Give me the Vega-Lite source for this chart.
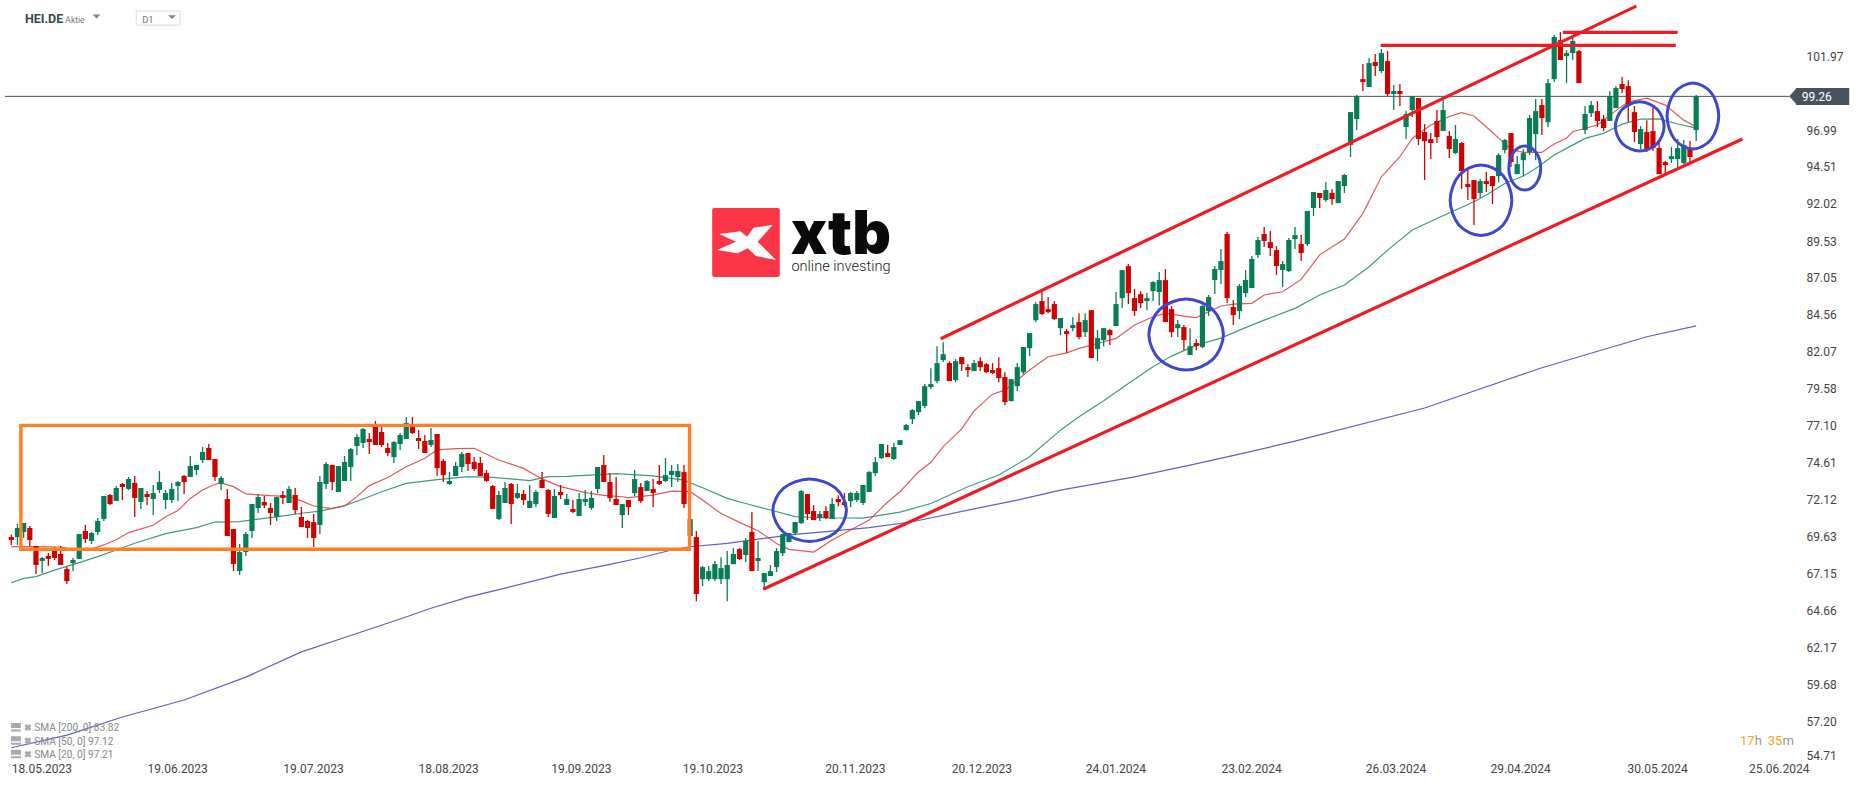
{
  "$schema": "https://vega.github.io/schema/vega-lite/v6.json",
  "width": 1866,
  "height": 787,
  "padding": 0,
  "autosize": {"type": "none"},
  "background": "#ffffff",
  "config": {"view": {"stroke": null}, "font": "Roboto"},
  "datasets": {
    "candles": [
      {"bar":0,"open":69.62,"high":69.80,"low":69.09,"close":69.42},
      {"bar":1,"open":69.62,"high":70.50,"low":69.09,"close":70.23},
      {"bar":2,"open":69.96,"high":70.57,"low":69.56,"close":70.57},
      {"bar":3,"open":70.23,"high":70.36,"low":69.02,"close":69.42},
      {"bar":4,"open":69.02,"high":69.02,"low":67.14,"close":67.74},
      {"bar":5,"open":68.01,"high":68.28,"low":67.20,"close":68.21},
      {"bar":6,"open":68.35,"high":68.55,"low":67.67,"close":68.15},
      {"bar":7,"open":68.75,"high":68.95,"low":68.08,"close":68.21},
      {"bar":8,"open":68.48,"high":69.02,"low":67.74,"close":67.74},
      {"bar":9,"open":67.47,"high":67.61,"low":66.46,"close":66.66},
      {"bar":10,"open":67.88,"high":68.21,"low":67.34,"close":68.08},
      {"bar":11,"open":68.15,"high":69.83,"low":68.15,"close":69.83},
      {"bar":12,"open":70.03,"high":70.43,"low":69.22,"close":69.49},
      {"bar":13,"open":69.36,"high":69.96,"low":69.15,"close":69.89},
      {"bar":14,"open":69.96,"high":70.90,"low":69.76,"close":70.70},
      {"bar":15,"open":70.84,"high":72.38,"low":70.70,"close":72.38},
      {"bar":16,"open":72.45,"high":72.52,"low":71.78,"close":71.84},
      {"bar":17,"open":72.05,"high":73.05,"low":72.05,"close":72.92},
      {"bar":18,"open":73.19,"high":73.26,"low":72.11,"close":72.99},
      {"bar":19,"open":72.85,"high":73.66,"low":72.79,"close":73.53},
      {"bar":20,"open":73.26,"high":73.73,"low":70.97,"close":72.25},
      {"bar":21,"open":71.98,"high":72.92,"low":71.51,"close":72.92},
      {"bar":22,"open":72.52,"high":72.72,"low":71.78,"close":72.31},
      {"bar":23,"open":72.18,"high":73.12,"low":71.10,"close":72.58},
      {"bar":24,"open":72.79,"high":74.06,"low":72.58,"close":73.32},
      {"bar":25,"open":72.11,"high":72.79,"low":71.51,"close":72.58},
      {"bar":26,"open":72.11,"high":73.26,"low":71.91,"close":72.85},
      {"bar":27,"open":73.05,"high":73.39,"low":72.05,"close":73.32},
      {"bar":28,"open":73.73,"high":73.79,"low":72.52,"close":73.32},
      {"bar":29,"open":73.66,"high":75.07,"low":73.66,"close":74.40},
      {"bar":30,"open":74.13,"high":74.47,"low":73.79,"close":74.47},
      {"bar":31,"open":74.80,"high":75.68,"low":74.60,"close":75.34},
      {"bar":32,"open":75.61,"high":75.88,"low":74.80,"close":74.80},
      {"bar":33,"open":74.87,"high":74.87,"low":73.39,"close":73.66},
      {"bar":34,"open":73.19,"high":73.73,"low":72.79,"close":73.59},
      {"bar":35,"open":72.18,"high":72.85,"low":69.69,"close":69.69},
      {"bar":36,"open":70.16,"high":70.16,"low":67.34,"close":67.81},
      {"bar":37,"open":67.34,"high":69.15,"low":67.07,"close":68.61},
      {"bar":38,"open":68.61,"high":69.96,"low":68.35,"close":69.83},
      {"bar":39,"open":70.03,"high":71.84,"low":69.56,"close":71.84},
      {"bar":40,"open":71.58,"high":72.52,"low":71.24,"close":72.31},
      {"bar":41,"open":71.98,"high":72.38,"low":71.58,"close":71.75},
      {"bar":42,"open":71.58,"high":71.91,"low":70.43,"close":71.24},
      {"bar":43,"open":70.97,"high":72.31,"low":70.70,"close":72.31},
      {"bar":44,"open":72.45,"high":72.72,"low":71.84,"close":72.25},
      {"bar":45,"open":71.91,"high":73.05,"low":71.91,"close":72.85},
      {"bar":46,"open":72.45,"high":72.92,"low":71.17,"close":71.44},
      {"bar":47,"open":70.97,"high":71.64,"low":70.30,"close":70.30},
      {"bar":48,"open":70.70,"high":70.77,"low":69.56,"close":70.23},
      {"bar":49,"open":70.63,"high":71.17,"low":68.95,"close":69.56},
      {"bar":50,"open":70.43,"high":73.73,"low":69.83,"close":73.32},
      {"bar":51,"open":73.19,"high":74.67,"low":72.85,"close":74.53},
      {"bar":52,"open":74.47,"high":74.47,"low":72.79,"close":73.32},
      {"bar":53,"open":72.65,"high":74.40,"low":72.65,"close":74.40},
      {"bar":54,"open":73.39,"high":75.07,"low":73.39,"close":74.67},
      {"bar":55,"open":74.33,"high":75.61,"low":73.39,"close":75.54},
      {"bar":56,"open":75.74,"high":76.55,"low":75.14,"close":76.35},
      {"bar":57,"open":75.95,"high":76.96,"low":75.61,"close":76.89},
      {"bar":58,"open":76.22,"high":76.62,"low":75.21,"close":76.01},
      {"bar":59,"open":77.16,"high":77.43,"low":75.81,"close":75.81},
      {"bar":60,"open":76.69,"high":77.02,"low":75.68,"close":75.81},
      {"bar":61,"open":75.61,"high":75.95,"low":75.07,"close":75.27},
      {"bar":62,"open":75.00,"high":76.08,"low":74.60,"close":76.01},
      {"bar":63,"open":75.88,"high":76.62,"low":75.48,"close":76.48},
      {"bar":64,"open":76.22,"high":77.70,"low":76.22,"close":77.29},
      {"bar":65,"open":77.02,"high":77.70,"low":76.55,"close":76.62},
      {"bar":66,"open":76.28,"high":76.82,"low":75.54,"close":76.08},
      {"bar":67,"open":76.08,"high":76.48,"low":75.27,"close":75.27},
      {"bar":68,"open":75.81,"high":76.96,"low":75.68,"close":76.15},
      {"bar":69,"open":76.55,"high":76.55,"low":73.73,"close":74.26},
      {"bar":70,"open":74.74,"high":74.87,"low":73.32,"close":73.79},
      {"bar":71,"open":73.19,"high":74.00,"low":73.12,"close":73.39},
      {"bar":72,"open":73.73,"high":74.67,"low":73.73,"close":74.40},
      {"bar":73,"open":74.33,"high":75.34,"low":74.00,"close":75.21},
      {"bar":74,"open":75.27,"high":75.27,"low":74.06,"close":74.53},
      {"bar":75,"open":74.67,"high":75.00,"low":74.06,"close":74.20},
      {"bar":76,"open":74.60,"high":75.00,"low":73.73,"close":73.73},
      {"bar":77,"open":73.93,"high":74.13,"low":73.32,"close":73.39},
      {"bar":78,"open":73.05,"high":73.12,"low":71.51,"close":71.51},
      {"bar":79,"open":70.84,"high":72.72,"low":70.77,"close":72.45},
      {"bar":80,"open":71.91,"high":73.32,"low":71.91,"close":72.92},
      {"bar":81,"open":73.19,"high":73.26,"low":70.50,"close":71.84},
      {"bar":82,"open":72.25,"high":73.19,"low":72.18,"close":72.58},
      {"bar":83,"open":72.52,"high":72.79,"low":71.78,"close":72.11},
      {"bar":84,"open":71.58,"high":73.12,"low":71.58,"close":72.05},
      {"bar":85,"open":71.84,"high":72.79,"low":71.64,"close":72.65},
      {"bar":86,"open":73.46,"high":74.00,"low":72.92,"close":72.92},
      {"bar":87,"open":72.79,"high":72.85,"low":70.97,"close":71.17},
      {"bar":88,"open":70.90,"high":72.85,"low":70.90,"close":72.38},
      {"bar":89,"open":72.65,"high":73.12,"low":72.18,"close":72.45},
      {"bar":90,"open":71.78,"high":72.52,"low":71.78,"close":72.18},
      {"bar":91,"open":71.51,"high":72.11,"low":71.24,"close":71.31},
      {"bar":92,"open":71.04,"high":72.58,"low":71.04,"close":72.18},
      {"bar":93,"open":71.98,"high":72.79,"low":71.71,"close":72.18},
      {"bar":94,"open":71.58,"high":72.72,"low":71.44,"close":72.25},
      {"bar":95,"open":72.85,"high":74.33,"low":72.58,"close":74.33},
      {"bar":96,"open":74.46,"high":75.14,"low":73.32,"close":73.32},
      {"bar":97,"open":73.32,"high":73.92,"low":71.97,"close":72.24},
      {"bar":98,"open":72.18,"high":73.66,"low":71.77,"close":71.77},
      {"bar":99,"open":71.10,"high":71.84,"low":70.23,"close":71.84},
      {"bar":100,"open":72.11,"high":72.11,"low":71.10,"close":71.64},
      {"bar":101,"open":72.58,"high":74.13,"low":72.38,"close":73.52},
      {"bar":102,"open":72.98,"high":73.25,"low":71.91,"close":72.04},
      {"bar":103,"open":72.71,"high":73.45,"low":72.71,"close":73.39},
      {"bar":104,"open":72.85,"high":73.52,"low":71.64,"close":72.58},
      {"bar":105,"open":73.39,"high":74.46,"low":73.12,"close":73.18},
      {"bar":106,"open":73.39,"high":74.93,"low":73.32,"close":73.79},
      {"bar":107,"open":73.79,"high":74.46,"low":72.98,"close":74.06},
      {"bar":108,"open":73.66,"high":74.53,"low":73.32,"close":74.06},
      {"bar":109,"open":73.99,"high":74.46,"low":71.57,"close":71.84},
      {"bar":110,"open":69.69,"high":70.83,"low":69.69,"close":70.83},
      {"bar":111,"open":69.62,"high":70.02,"low":65.31,"close":65.79},
      {"bar":112,"open":66.79,"high":67.67,"low":66.32,"close":67.60},
      {"bar":113,"open":66.79,"high":67.67,"low":66.66,"close":67.33},
      {"bar":114,"open":66.79,"high":68.01,"low":66.66,"close":67.80},
      {"bar":115,"open":66.79,"high":68.27,"low":66.46,"close":67.53},
      {"bar":116,"open":66.79,"high":68.68,"low":65.31,"close":67.74},
      {"bar":117,"open":67.80,"high":68.88,"low":67.80,"close":68.48},
      {"bar":118,"open":68.81,"high":68.88,"low":68.07,"close":68.14},
      {"bar":119,"open":68.41,"high":69.55,"low":67.94,"close":69.35},
      {"bar":120,"open":69.96,"high":71.30,"low":67.33,"close":67.33},
      {"bar":121,"open":68.01,"high":69.35,"low":67.33,"close":68.21},
      {"bar":122,"open":66.59,"high":67.20,"low":66.19,"close":67.20},
      {"bar":123,"open":67.00,"high":67.74,"low":67.00,"close":67.33},
      {"bar":124,"open":67.60,"high":68.88,"low":67.27,"close":68.68},
      {"bar":125,"open":68.54,"high":69.82,"low":68.34,"close":69.82},
      {"bar":126,"open":69.28,"high":69.89,"low":69.28,"close":69.89},
      {"bar":127,"open":69.89,"high":70.63,"low":69.75,"close":70.63},
      {"bar":128,"open":70.56,"high":72.78,"low":70.49,"close":72.71},
      {"bar":129,"open":72.51,"high":72.51,"low":70.76,"close":71.17},
      {"bar":130,"open":71.37,"high":71.77,"low":70.76,"close":70.76},
      {"bar":131,"open":70.90,"high":71.37,"low":70.70,"close":71.17},
      {"bar":132,"open":71.37,"high":71.70,"low":70.83,"close":70.90},
      {"bar":133,"open":70.83,"high":72.24,"low":70.83,"close":71.84},
      {"bar":134,"open":72.18,"high":72.44,"low":71.70,"close":71.97},
      {"bar":135,"open":71.97,"high":72.58,"low":71.64,"close":71.77},
      {"bar":136,"open":72.04,"high":72.65,"low":71.64,"close":72.58},
      {"bar":137,"open":72.11,"high":72.71,"low":71.97,"close":72.58},
      {"bar":138,"open":71.91,"high":73.12,"low":71.77,"close":73.12},
      {"bar":139,"open":72.65,"high":74.06,"low":72.65,"close":73.99},
      {"bar":140,"open":73.92,"high":75.00,"low":73.72,"close":74.66},
      {"bar":141,"open":74.93,"high":75.88,"low":74.87,"close":75.88},
      {"bar":142,"open":75.27,"high":75.81,"low":75.00,"close":75.00},
      {"bar":143,"open":74.87,"high":75.94,"low":74.80,"close":75.67},
      {"bar":144,"open":75.81,"high":76.14,"low":75.81,"close":76.14},
      {"bar":145,"open":76.81,"high":77.22,"low":76.81,"close":77.15},
      {"bar":146,"open":77.55,"high":78.23,"low":77.22,"close":78.16},
      {"bar":147,"open":78.02,"high":78.76,"low":77.82,"close":78.76},
      {"bar":148,"open":78.43,"high":79.91,"low":78.29,"close":79.77},
      {"bar":149,"open":79.71,"high":80.98,"low":79.57,"close":79.91},
      {"bar":150,"open":80.11,"high":82.46,"low":79.97,"close":81.32},
      {"bar":151,"open":81.52,"high":82.73,"low":81.39,"close":81.92},
      {"bar":152,"open":81.32,"high":81.45,"low":80.11,"close":80.11},
      {"bar":153,"open":80.18,"high":81.59,"low":80.04,"close":81.45},
      {"bar":154,"open":81.72,"high":81.72,"low":80.78,"close":81.25},
      {"bar":155,"open":81.05,"high":81.25,"low":80.38,"close":80.85},
      {"bar":156,"open":80.78,"high":81.52,"low":80.78,"close":81.32},
      {"bar":157,"open":81.45,"high":81.72,"low":80.78,"close":81.05},
      {"bar":158,"open":81.25,"high":81.32,"low":80.65,"close":80.71},
      {"bar":159,"open":80.85,"high":81.32,"low":80.58,"close":80.65},
      {"bar":160,"open":80.98,"high":81.72,"low":80.04,"close":80.31},
      {"bar":161,"open":80.38,"high":80.71,"low":78.49,"close":78.70},
      {"bar":162,"open":78.76,"high":80.24,"low":78.76,"close":80.24},
      {"bar":163,"open":79.77,"high":81.32,"low":79.44,"close":81.05},
      {"bar":164,"open":80.71,"high":82.40,"low":80.58,"close":82.40},
      {"bar":165,"open":82.33,"high":83.34,"low":81.79,"close":83.34},
      {"bar":166,"open":84.21,"high":85.42,"low":84.08,"close":85.29},
      {"bar":167,"open":85.49,"high":86.10,"low":84.55,"close":84.62},
      {"bar":168,"open":84.95,"high":85.76,"low":84.68,"close":84.75},
      {"bar":169,"open":85.29,"high":85.49,"low":84.21,"close":84.28},
      {"bar":170,"open":83.67,"high":84.35,"low":83.20,"close":84.35},
      {"bar":171,"open":83.47,"high":83.61,"low":82.00,"close":83.27},
      {"bar":172,"open":83.67,"high":84.41,"low":83.47,"close":83.88},
      {"bar":173,"open":84.08,"high":84.68,"low":82.93,"close":83.07},
      {"bar":174,"open":83.40,"high":84.68,"low":83.07,"close":84.21},
      {"bar":175,"open":84.88,"high":84.88,"low":81.66,"close":81.66},
      {"bar":176,"open":82.26,"high":83.54,"low":81.45,"close":83.00},
      {"bar":177,"open":82.87,"high":83.67,"low":82.46,"close":83.67},
      {"bar":178,"open":83.54,"high":83.61,"low":82.53,"close":83.20},
      {"bar":179,"open":83.81,"high":86.10,"low":83.81,"close":85.29},
      {"bar":180,"open":85.69,"high":87.57,"low":85.02,"close":87.57},
      {"bar":181,"open":87.84,"high":87.98,"low":85.29,"close":86.03},
      {"bar":182,"open":85.69,"high":86.30,"low":84.48,"close":84.82},
      {"bar":183,"open":85.96,"high":86.16,"low":85.02,"close":85.36},
      {"bar":184,"open":85.49,"high":86.03,"low":84.88,"close":85.69},
      {"bar":185,"open":86.16,"high":86.83,"low":85.49,"close":86.77},
      {"bar":186,"open":86.10,"high":87.44,"low":85.20,"close":86.90},
      {"bar":187,"open":86.90,"high":87.64,"low":84.08,"close":84.08},
      {"bar":188,"open":84.95,"high":85.15,"low":83.07,"close":83.40},
      {"bar":189,"open":83.67,"high":84.21,"low":83.07,"close":83.94},
      {"bar":190,"open":83.74,"high":83.88,"low":82.19,"close":82.87},
      {"bar":191,"open":81.86,"high":83.67,"low":81.86,"close":82.46},
      {"bar":192,"open":82.67,"high":82.93,"low":82.19,"close":82.46},
      {"bar":193,"open":82.40,"high":85.22,"low":82.33,"close":85.16},
      {"bar":194,"open":84.82,"high":85.90,"low":84.48,"close":85.76},
      {"bar":195,"open":86.91,"high":87.85,"low":85.96,"close":87.65},
      {"bar":196,"open":87.58,"high":88.99,"low":86.64,"close":88.18},
      {"bar":197,"open":90.00,"high":90.13,"low":85.36,"close":85.69},
      {"bar":198,"open":85.09,"high":85.56,"low":83.88,"close":84.55},
      {"bar":199,"open":84.82,"high":86.64,"low":84.28,"close":86.50},
      {"bar":200,"open":86.03,"high":87.58,"low":85.76,"close":86.91},
      {"bar":201,"open":86.37,"high":88.52,"low":86.37,"close":88.32},
      {"bar":202,"open":88.59,"high":89.80,"low":88.39,"close":89.60},
      {"bar":203,"open":90.00,"high":90.47,"low":89.12,"close":89.53},
      {"bar":204,"open":89.46,"high":90.20,"low":88.52,"close":89.06},
      {"bar":205,"open":88.92,"high":89.19,"low":87.24,"close":87.85},
      {"bar":206,"open":87.58,"high":88.18,"low":86.43,"close":87.98},
      {"bar":207,"open":87.51,"high":89.73,"low":87.44,"close":89.60},
      {"bar":208,"open":89.66,"high":90.47,"low":88.99,"close":89.93},
      {"bar":209,"open":89.33,"high":89.93,"low":88.18,"close":88.72},
      {"bar":210,"open":89.33,"high":91.55,"low":89.19,"close":91.55},
      {"bar":211,"open":91.75,"high":92.82,"low":91.21,"close":92.82},
      {"bar":212,"open":92.76,"high":92.76,"low":91.75,"close":92.42},
      {"bar":213,"open":92.29,"high":93.50,"low":92.15,"close":92.96},
      {"bar":214,"open":92.76,"high":93.03,"low":91.95,"close":92.35},
      {"bar":215,"open":92.08,"high":93.56,"low":92.08,"close":93.56},
      {"bar":216,"open":93.23,"high":94.03,"low":92.76,"close":93.97},
      {"bar":217,"open":95.99,"high":98.20,"low":95.18,"close":98.20},
      {"bar":218,"open":97.73,"high":99.35,"low":96.99,"close":99.28},
      {"bar":219,"open":100.42,"high":101.43,"low":99.62,"close":100.22},
      {"bar":220,"open":99.89,"high":101.84,"low":99.89,"close":101.50},
      {"bar":221,"open":101.57,"high":102.11,"low":100.63,"close":101.30},
      {"bar":222,"open":100.96,"high":102.44,"low":100.83,"close":102.17},
      {"bar":223,"open":101.63,"high":102.31,"low":99.28,"close":99.42},
      {"bar":224,"open":99.42,"high":100.02,"low":98.34,"close":99.62},
      {"bar":225,"open":99.62,"high":100.09,"low":98.61,"close":99.42},
      {"bar":226,"open":97.20,"high":98.27,"low":96.39,"close":98.07},
      {"bar":227,"open":98.34,"high":99.28,"low":97.87,"close":99.28},
      {"bar":228,"open":99.15,"high":99.15,"low":95.99,"close":96.39},
      {"bar":229,"open":96.86,"high":97.40,"low":93.63,"close":96.25},
      {"bar":230,"open":96.39,"high":96.79,"low":95.04,"close":96.12},
      {"bar":231,"open":97.60,"high":98.34,"low":96.12,"close":96.52},
      {"bar":232,"open":96.93,"high":99.08,"low":96.93,"close":98.34},
      {"bar":233,"open":96.59,"high":96.93,"low":95.11,"close":95.72},
      {"bar":234,"open":95.45,"high":97.33,"low":95.38,"close":96.39},
      {"bar":235,"open":96.12,"high":96.19,"low":93.03,"close":94.24},
      {"bar":236,"open":93.36,"high":94.30,"low":92.29,"close":93.16},
      {"bar":237,"open":93.63,"high":93.63,"low":90.60,"close":92.35},
      {"bar":238,"open":92.76,"high":93.70,"low":92.42,"close":93.56},
      {"bar":239,"open":93.56,"high":94.17,"low":92.82,"close":93.36},
      {"bar":240,"open":93.90,"high":93.90,"low":92.02,"close":93.23},
      {"bar":241,"open":93.90,"high":95.44,"low":93.49,"close":95.31},
      {"bar":242,"open":95.65,"high":96.39,"low":95.42,"close":96.32},
      {"bar":243,"open":96.79,"high":96.79,"low":94.50,"close":94.84},
      {"bar":244,"open":94.03,"high":95.24,"low":94.03,"close":94.70},
      {"bar":245,"open":94.97,"high":95.71,"low":93.90,"close":95.44},
      {"bar":246,"open":95.51,"high":98.00,"low":95.31,"close":97.80},
      {"bar":247,"open":96.72,"high":99.08,"low":94.97,"close":98.27},
      {"bar":248,"open":98.67,"high":99.08,"low":96.66,"close":97.80},
      {"bar":249,"open":97.53,"high":100.42,"low":97.19,"close":100.15},
      {"bar":250,"open":100.42,"high":103.38,"low":100.22,"close":103.25},
      {"bar":251,"open":103.04,"high":103.58,"low":101.70,"close":101.70},
      {"bar":252,"open":101.97,"high":102.37,"low":100.15,"close":102.17},
      {"bar":253,"open":102.17,"high":103.18,"low":101.70,"close":102.98},
      {"bar":254,"open":102.30,"high":102.37,"low":100.15,"close":100.15},
      {"bar":255,"open":96.99,"high":98.61,"low":96.72,"close":98.07},
      {"bar":256,"open":98.13,"high":98.94,"low":97.87,"close":98.67},
      {"bar":257,"open":98.27,"high":98.94,"low":97.19,"close":97.60},
      {"bar":258,"open":97.73,"high":98.00,"low":96.92,"close":97.13},
      {"bar":259,"open":97.60,"high":99.61,"low":97.60,"close":99.28},
      {"bar":260,"open":98.47,"high":99.95,"low":98.47,"close":99.82},
      {"bar":261,"open":100.09,"high":100.56,"low":99.48,"close":99.75},
      {"bar":262,"open":99.95,"high":100.35,"low":97.53,"close":98.61},
      {"bar":263,"open":98.20,"high":98.61,"low":96.18,"close":96.86},
      {"bar":264,"open":96.05,"high":97.26,"low":95.71,"close":97.06},
      {"bar":265,"open":96.86,"high":97.66,"low":95.51,"close":95.71},
      {"bar":266,"open":96.92,"high":98.47,"low":95.58,"close":95.78},
      {"bar":267,"open":95.78,"high":96.18,"low":94.03,"close":94.03},
      {"bar":268,"open":94.84,"high":94.91,"low":94.03,"close":94.64},
      {"bar":269,"open":95.04,"high":95.85,"low":94.77,"close":95.24},
      {"bar":270,"open":95.04,"high":96.39,"low":94.50,"close":95.78},
      {"bar":271,"open":94.77,"high":96.32,"low":94.70,"close":95.98},
      {"bar":272,"open":95.71,"high":96.25,"low":94.70,"close":95.18},
      {"bar":273,"open":96.99,"high":99.35,"low":96.25,"close":99.26}
    ],
    "sma": [
      {"sma":"200","bar":0,"price":55.45},{"sma":"200","bar":9,"price":56.3},{"sma":"200","bar":18,"price":57.52},{"sma":"200","bar":28,"price":58.66},{"sma":"200","bar":38,"price":60.2},{"sma":"200","bar":47,"price":61.9},{"sma":"200","bar":55,"price":63.0},{"sma":"200","bar":63,"price":64.11},{"sma":"200","bar":68,"price":64.83},{"sma":"200","bar":74,"price":65.58},{"sma":"200","bar":80,"price":66.19},{"sma":"200","bar":89,"price":67.13},{"sma":"200","bar":97,"price":67.78},{"sma":"200","bar":102,"price":68.23},{"sma":"200","bar":107,"price":68.75},{"sma":"200","bar":110,"price":68.97},{"sma":"200","bar":116,"price":69.19},{"sma":"200","bar":122,"price":69.53},{"sma":"200","bar":127,"price":69.8},{"sma":"200","bar":132,"price":69.98},{"sma":"200","bar":139,"price":70.25},{"sma":"200","bar":146,"price":70.65},{"sma":"200","bar":155,"price":71.43},{"sma":"200","bar":163,"price":72.1},{"sma":"200","bar":170,"price":72.78},{"sma":"200","bar":182,"price":73.67},{"sma":"200","bar":191,"price":74.46},{"sma":"200","bar":199,"price":75.2},{"sma":"200","bar":208,"price":76.07},{"sma":"200","bar":229,"price":78.3},{"sma":"200","bar":248,"price":81.01},{"sma":"200","bar":265,"price":83.09},{"sma":"200","bar":273,"price":83.82},
      {"sma":"50","bar":0,"price":66.55},{"sma":"50","bar":2,"price":66.84},{"sma":"50","bar":4,"price":66.96},{"sma":"50","bar":7,"price":67.4},{"sma":"50","bar":11,"price":67.9},{"sma":"50","bar":14,"price":68.3},{"sma":"50","bar":17,"price":68.75},{"sma":"50","bar":20,"price":69.2},{"sma":"50","bar":25,"price":69.85},{"sma":"50","bar":30,"price":70.25},{"sma":"50","bar":33,"price":70.63},{"sma":"50","bar":37,"price":70.66},{"sma":"50","bar":41,"price":70.88},{"sma":"50","bar":45,"price":71.1},{"sma":"50","bar":47,"price":71.22},{"sma":"50","bar":50,"price":71.37},{"sma":"50","bar":54,"price":71.73},{"sma":"50","bar":57,"price":72.18},{"sma":"50","bar":60,"price":72.67},{"sma":"50","bar":64,"price":73.23},{"sma":"50","bar":69,"price":73.48},{"sma":"50","bar":74,"price":73.68},{"sma":"50","bar":78,"price":73.64},{"sma":"50","bar":84,"price":73.41},{"sma":"50","bar":87,"price":73.68},{"sma":"50","bar":90,"price":73.7},{"sma":"50","bar":96,"price":73.83},{"sma":"50","bar":98,"price":73.88},{"sma":"50","bar":104,"price":73.74},{"sma":"50","bar":109,"price":73.45},{"sma":"50","bar":112,"price":72.94},{"sma":"50","bar":116,"price":72.22},{"sma":"50","bar":119,"price":71.88},{"sma":"50","bar":123,"price":71.44},{"sma":"50","bar":127,"price":70.99},{"sma":"50","bar":131,"price":70.92},{"sma":"50","bar":138,"price":70.9},{"sma":"50","bar":141,"price":71.1},{"sma":"50","bar":144,"price":71.3},{"sma":"50","bar":149,"price":71.88},{"sma":"50","bar":155,"price":73.0},{"sma":"50","bar":160,"price":73.79},{"sma":"50","bar":165,"price":75.02},{"sma":"50","bar":170,"price":76.81},{"sma":"50","bar":173,"price":77.71},{"sma":"50","bar":177,"price":78.79},{"sma":"50","bar":181,"price":79.95},{"sma":"50","bar":185,"price":81.07},{"sma":"50","bar":188,"price":81.79},{"sma":"50","bar":192,"price":82.53},{"sma":"50","bar":196,"price":83.0},{"sma":"50","bar":199,"price":83.54},{"sma":"50","bar":203,"price":84.21},{"sma":"50","bar":208,"price":85.0},{"sma":"50","bar":212,"price":85.9},{"sma":"50","bar":216,"price":86.57},{"sma":"50","bar":220,"price":87.8},{"sma":"50","bar":223,"price":88.92},{"sma":"50","bar":227,"price":90.27},{"sma":"50","bar":231,"price":91.05},{"sma":"50","bar":237,"price":92.17},{"sma":"50","bar":239,"price":92.62},{"sma":"50","bar":242,"price":93.4},{"sma":"50","bar":245,"price":93.9},{"sma":"50","bar":247,"price":94.41},{"sma":"50","bar":250,"price":95.31},{"sma":"50","bar":252,"price":95.76},{"sma":"50","bar":255,"price":96.43},{"sma":"50","bar":258,"price":96.77},{"sma":"50","bar":261,"price":97.39},{"sma":"50","bar":264,"price":97.73},{"sma":"50","bar":267,"price":97.75},{"sma":"50","bar":270,"price":97.4},{"sma":"50","bar":273,"price":97.12},
      {"sma":"20","bar":0,"price":68.97},{"sma":"20","bar":4,"price":68.97},{"sma":"20","bar":8,"price":68.95},{"sma":"20","bar":10,"price":68.77},{"sma":"20","bar":13,"price":68.82},{"sma":"20","bar":15,"price":69.09},{"sma":"20","bar":17,"price":69.44},{"sma":"20","bar":19,"price":69.92},{"sma":"20","bar":23,"price":70.41},{"sma":"20","bar":25,"price":70.99},{"sma":"20","bar":27,"price":71.4},{"sma":"20","bar":29,"price":72.22},{"sma":"20","bar":31,"price":72.79},{"sma":"20","bar":33,"price":73.17},{"sma":"20","bar":34,"price":73.26},{"sma":"20","bar":36,"price":73.01},{"sma":"20","bar":38,"price":72.52},{"sma":"20","bar":42,"price":72.4},{"sma":"20","bar":45,"price":72.34},{"sma":"20","bar":47,"price":72.05},{"sma":"20","bar":49,"price":71.71},{"sma":"20","bar":52,"price":71.53},{"sma":"20","bar":54,"price":71.71},{"sma":"20","bar":56,"price":72.34},{"sma":"20","bar":58,"price":73.08},{"sma":"20","bar":61,"price":73.62},{"sma":"20","bar":64,"price":74.35},{"sma":"20","bar":67,"price":74.92},{"sma":"20","bar":69,"price":75.48},{"sma":"20","bar":72,"price":75.57},{"sma":"20","bar":75,"price":75.59},{"sma":"20","bar":79,"price":74.8},{"sma":"20","bar":83,"price":74.24},{"sma":"20","bar":86,"price":73.53},{"sma":"20","bar":89,"price":73.01},{"sma":"20","bar":93,"price":72.61},{"sma":"20","bar":96,"price":72.42},{"sma":"20","bar":99,"price":72.33},{"sma":"20","bar":100,"price":72.27},{"sma":"20","bar":104,"price":72.44},{"sma":"20","bar":107,"price":72.71},{"sma":"20","bar":110,"price":72.67},{"sma":"20","bar":112,"price":72.11},{"sma":"20","bar":115,"price":71.21},{"sma":"20","bar":118,"price":70.61},{"sma":"20","bar":121,"price":70.05},{"sma":"20","bar":124,"price":69.19},{"sma":"20","bar":126,"price":68.79},{"sma":"20","bar":130,"price":68.61},{"sma":"20","bar":133,"price":69.42},{"sma":"20","bar":136,"price":70.09},{"sma":"20","bar":139,"price":70.76},{"sma":"20","bar":142,"price":71.98},{"sma":"20","bar":144,"price":72.67},{"sma":"20","bar":147,"price":74.0},{"sma":"20","bar":149,"price":74.65},{"sma":"20","bar":151,"price":75.7},{"sma":"20","bar":154,"price":76.9},{"sma":"20","bar":156,"price":78.11},{"sma":"20","bar":159,"price":79.23},{"sma":"20","bar":161,"price":79.5},{"sma":"20","bar":162,"price":79.84},{"sma":"20","bar":165,"price":80.85},{"sma":"20","bar":168,"price":81.75},{"sma":"20","bar":171,"price":82.01},{"sma":"20","bar":173,"price":82.31},{"sma":"20","bar":176,"price":82.64},{"sma":"20","bar":179,"price":82.98},{"sma":"20","bar":182,"price":83.88},{"sma":"20","bar":185,"price":84.44},{"sma":"20","bar":187,"price":84.66},{"sma":"20","bar":190,"price":84.48},{"sma":"20","bar":192,"price":84.38},{"sma":"20","bar":196,"price":85.16},{"sma":"20","bar":198,"price":85.29},{"sma":"20","bar":201,"price":85.34},{"sma":"20","bar":203,"price":85.9},{"sma":"20","bar":206,"price":86.12},{"sma":"20","bar":209,"price":86.95},{"sma":"20","bar":212,"price":88.6},{"sma":"20","bar":216,"price":89.66},{"sma":"20","bar":219,"price":91.39},{"sma":"20","bar":222,"price":93.85},{"sma":"20","bar":225,"price":95.2},{"sma":"20","bar":227,"price":96.43},{"sma":"20","bar":230,"price":97.33},{"sma":"20","bar":233,"price":97.9},{"sma":"20","bar":235,"price":98.16},{"sma":"20","bar":237,"price":97.94},{"sma":"20","bar":239,"price":97.2},{"sma":"20","bar":241,"price":96.45},{"sma":"20","bar":243,"price":95.69},{"sma":"20","bar":245,"price":95.49},{"sma":"20","bar":248,"price":95.49},{"sma":"20","bar":250,"price":96.05},{"sma":"20","bar":252,"price":96.45},{"sma":"20","bar":253,"price":96.88},{"sma":"20","bar":257,"price":97.33},{"sma":"20","bar":260,"price":98.3},{"sma":"20","bar":262,"price":98.9},{"sma":"20","bar":265,"price":99.14},{"sma":"20","bar":268,"price":98.67},{"sma":"20","bar":271,"price":97.66},{"sma":"20","bar":273,"price":97.21}
    ],
    "redLines": [
      {"line":"lower","bar":121.83,"price":66.11},{"line":"lower","bar":280.5,"price":96.39},
      {"line":"upper","bar":150.6,"price":82.96},{"line":"upper","bar":263.3,"price":105.33},
      {"line":"res1","bar":221.9,"price":102.69},{"line":"res1","bar":269.7,"price":102.69},
      {"line":"res2","bar":251.4,"price":103.56},{"line":"res2","bar":270,"price":103.56}
    ],
    "circles": [
      {"c":"a","k":0,"bar":135.32,"price":71.42},{"c":"a","k":1,"bar":133.57,"price":72.91},{"c":"a","k":2,"bar":129.36,"price":73.53},{"c":"a","k":3,"bar":125.15,"price":72.91},{"c":"a","k":4,"bar":123.40,"price":71.42},{"c":"a","k":5,"bar":125.15,"price":69.93},{"c":"a","k":6,"bar":129.36,"price":69.32},{"c":"a","k":7,"bar":133.57,"price":69.93},
      {"c":"b","k":0,"bar":196.40,"price":83.24},{"c":"b","k":1,"bar":194.63,"price":84.93},{"c":"b","k":2,"bar":190.36,"price":85.63},{"c":"b","k":3,"bar":186.09,"price":84.93},{"c":"b","k":4,"bar":184.32,"price":83.24},{"c":"b","k":5,"bar":186.09,"price":81.55},{"c":"b","k":6,"bar":190.36,"price":80.85},{"c":"b","k":7,"bar":194.63,"price":81.55},
      {"c":"d","k":0,"bar":243.14,"price":92.27},{"c":"d","k":1,"bar":241.68,"price":93.95},{"c":"d","k":2,"bar":238.14,"price":94.64},{"c":"d","k":3,"bar":234.60,"price":93.95},{"c":"d","k":4,"bar":233.14,"price":92.27},{"c":"d","k":5,"bar":234.60,"price":90.59},{"c":"d","k":6,"bar":238.14,"price":89.90},{"c":"d","k":7,"bar":241.68,"price":90.59},
      {"c":"e","k":0,"bar":247.81,"price":94.44},{"c":"e","k":1,"bar":247.05,"price":95.49},{"c":"e","k":2,"bar":245.23,"price":95.92},{"c":"e","k":3,"bar":243.41,"price":95.49},{"c":"e","k":4,"bar":242.65,"price":94.44},{"c":"e","k":5,"bar":243.41,"price":93.39},{"c":"e","k":6,"bar":245.23,"price":92.96},{"c":"e","k":7,"bar":247.05,"price":93.39},
      {"c":"f","k":0,"bar":267.81,"price":97.24},{"c":"f","k":1,"bar":266.65,"price":98.41},{"c":"f","k":2,"bar":263.86,"price":98.90},{"c":"f","k":3,"bar":261.07,"price":98.41},{"c":"f","k":4,"bar":259.91,"price":97.24},{"c":"f","k":5,"bar":261.07,"price":96.07},{"c":"f","k":6,"bar":263.86,"price":95.58},{"c":"f","k":7,"bar":266.65,"price":96.07},
      {"c":"g","k":0,"bar":276.66,"price":97.94},{"c":"g","k":1,"bar":275.43,"price":99.51},{"c":"g","k":2,"bar":272.47,"price":100.16},{"c":"g","k":3,"bar":269.51,"price":99.51},{"c":"g","k":4,"bar":268.28,"price":97.94},{"c":"g","k":5,"bar":269.51,"price":96.37},{"c":"g","k":6,"bar":272.47,"price":95.72},{"c":"g","k":7,"bar":275.43,"price":96.37}
    ]
  },
  "layer": [
    {
      "data": {"values": [{"bar": -1.02, "bar2": 288.1, "price": 99.26}]},
      "mark": {"type": "rule", "color": "#47545e", "strokeWidth": 1},
      "encoding": {
        "x": {"field": "bar", "type": "quantitative", "scale": {"domain": [-1.02, 299.71], "nice": false, "zero": false}, "axis": {"orient": "bottom", "offset": -24, "title": null, "grid": false, "domain": false, "ticks": false, "labelPadding": 0, "labelFont": "Roboto", "labelFontSize": 12, "labelColor": "#444444", "labelAlign": "left", "labelBaseline": "top", "labelBound": false, "labelFlush": false, "labelOverlap": false, "values": [0,22,44,65.9,87.4,108.7,131.8,152.3,174,196,219.4,239.6,261.8,281.5], "labelExpr": "{'0':'18.05.2023','22':'19.06.2023','44':'19.07.2023','65.9':'18.08.2023','87.4':'19.09.2023','108.7':'19.10.2023','131.8':'20.11.2023','152.3':'20.12.2023','174':'24.01.2024','196':'23.02.2024','219.4':'26.03.2024','239.6':'29.04.2024','261.8':'30.05.2024','281.5':'25.06.2024'}[datum.value]"}},
        "x2": {"field": "bar2"},
        "y": {"field": "price", "type": "quantitative", "scale": {"domain": [52.81, 105.74], "nice": false, "zero": false}, "axis": {"orient": "right", "offset": -60, "title": null, "grid": false, "domain": false, "ticks": false, "labelPadding": 0, "labelFont": "Roboto", "labelFontSize": 12, "labelColor": "#444444", "labelBound": false, "labelFlush": false, "labelOverlap": false, "values": [101.97,96.99,94.51,92.02,89.53,87.05,84.56,82.07,79.58,77.10,74.61,72.12,69.63,67.15,64.66,62.17,59.68,57.20,54.92], "labelExpr": "datum.value == 54.92 ? '54.71' : format(datum.value, '.2f')"}}
      }
    },
    {
      "data": {"name": "sma"},
      "mark": {"type": "line", "strokeWidth": 1.2, "opacity": 0.85},
      "encoding": {
        "x": {"field": "bar", "type": "quantitative"},
        "y": {"field": "price", "type": "quantitative"},
        "color": {"field": "sma", "type": "nominal", "legend": null, "scale": {"domain": ["200", "50", "20"], "range": ["#3f48b0", "#1f8a63", "#e03a3e"]}}
      }
    },
    {
      "data": {"name": "candles"},
      "mark": {"type": "rule", "strokeWidth": 1.3},
      "encoding": {
        "x": {"field": "bar", "type": "quantitative"},
        "y": {"field": "low", "type": "quantitative"},
        "y2": {"field": "high"},
        "color": {"condition": {"test": "datum.close >= datum.open", "value": "#067d56"}, "value": "#cf0000"}
      }
    },
    {
      "data": {"name": "candles"},
      "mark": {"type": "bar", "size": 5.2},
      "encoding": {
        "x": {"field": "bar", "type": "quantitative"},
        "y": {"field": "open", "type": "quantitative"},
        "y2": {"field": "close"},
        "color": {"condition": {"test": "datum.close >= datum.open", "value": "#067d56"}, "value": "#cf0000"}
      }
    },
    {
      "data": {"values": [{"bar": 1.56, "bar2": 109.9, "price": 77.13, "price2": 68.80}]},
      "mark": {"type": "rect", "filled": false, "stroke": "#ff7f27", "strokeWidth": 3.4},
      "encoding": {
        "x": {"field": "bar", "type": "quantitative"},
        "x2": {"field": "bar2"},
        "y": {"field": "price", "type": "quantitative"},
        "y2": {"field": "price2"}
      }
    },
    {
      "data": {"name": "redLines"},
      "mark": {"type": "line", "color": "#ed1c24", "strokeWidth": 3.2},
      "encoding": {
        "x": {"field": "bar", "type": "quantitative"},
        "y": {"field": "price", "type": "quantitative"},
        "detail": {"field": "line"}
      }
    },
    {
      "data": {"name": "circles"},
      "mark": {"type": "line", "color": "#3f48cc", "strokeWidth": 3, "interpolate": "cardinal-closed"},
      "encoding": {
        "x": {"field": "bar", "type": "quantitative"},
        "y": {"field": "price", "type": "quantitative"},
        "detail": {"field": "c"},
        "order": {"field": "k", "type": "quantitative"}
      }
    },
    {
      "data": {"values": [{"bar": 289.2, "bar2": 297.8, "price": 99.82, "price2": 98.68}]},
      "mark": {"type": "rect", "color": "#47545e"},
      "encoding": {
        "x": {"field": "bar", "type": "quantitative"},
        "x2": {"field": "bar2"},
        "y": {"field": "price", "type": "quantitative"},
        "y2": {"field": "price2"}
      }
    },
    {
      "data": {"values": [{"bar": 288.7, "price": 99.26}]},
      "mark": {"type": "point", "shape": "M-0.45,0L0.45,-1L0.45,1Z", "size": 289, "filled": true, "color": "#47545e", "opacity": 1},
      "encoding": {"x": {"field": "bar", "type": "quantitative"}, "y": {"field": "price", "type": "quantitative"}}
    },
    {
      "data": {"values": [{"bar": 290.1, "price": 99.22, "label": "99.26"}]},
      "mark": {"type": "text", "align": "left", "baseline": "middle", "font": "Roboto", "fontSize": 12, "color": "#ffffff"},
      "encoding": {"x": {"field": "bar", "type": "quantitative"}, "y": {"field": "price", "type": "quantitative"}, "text": {"field": "label"}}
    },
    {
      "data": {"values": [{"bar": 2.21, "price": 104.46, "label": "HEI.DE"}]},
      "mark": {"type": "text", "align": "left", "baseline": "middle", "font": "Roboto", "fontSize": 12.5, "fontWeight": "bold", "color": "#37474f"},
      "encoding": {"x": {"field": "bar", "type": "quantitative"}, "y": {"field": "price", "type": "quantitative"}, "text": {"field": "label"}}
    },
    {
      "data": {"values": [{"bar": 8.76, "price": 104.42, "label": "Aktie"}]},
      "mark": {"type": "text", "align": "left", "baseline": "middle", "font": "Roboto", "fontSize": 8.5, "color": "#777777"},
      "encoding": {"x": {"field": "bar", "type": "quantitative"}, "y": {"field": "price", "type": "quantitative"}, "text": {"field": "label"}}
    },
    {
      "data": {"values": [{"bar": 21.2, "price": 104.39, "label": "D1"}]},
      "mark": {"type": "text", "align": "left", "baseline": "middle", "font": "Roboto", "fontSize": 9.5, "color": "#777777"},
      "encoding": {"x": {"field": "bar", "type": "quantitative"}, "y": {"field": "price", "type": "quantitative"}, "text": {"field": "label"}}
    },
    {
      "data": {"values": [{"bar": 13.81, "price": 104.63}, {"bar": 26.05, "price": 104.59}]},
      "mark": {"type": "point", "shape": "M-1,-0.5L1,-0.5L0,0.5Z", "size": 60, "filled": true, "color": "#808080", "opacity": 1},
      "encoding": {"x": {"field": "bar", "type": "quantitative"}, "y": {"field": "price", "type": "quantitative"}}
    },
    {
      "data": {"values": [{"bar": 20.25, "bar2": 27.34, "price": 105.0, "price2": 104.05}]},
      "mark": {"type": "rect", "filled": false, "stroke": "#dddddd", "strokeWidth": 1},
      "encoding": {"x": {"field": "bar", "type": "quantitative"}, "x2": {"field": "bar2"}, "y": {"field": "price", "type": "quantitative"}, "y2": {"field": "price2"}}
    },
    {
      "data": {"values": [{"bar": 3.7, "price": 56.76, "label": "SMA [200, 0] 83.82"}, {"bar": 3.7, "price": 55.86, "label": "SMA [50, 0] 97.12"}, {"bar": 3.7, "price": 54.96, "label": "SMA [20, 0] 97.21"}]},
      "mark": {"type": "text", "align": "left", "baseline": "middle", "font": "Roboto", "fontSize": 10.2, "color": "#888888"},
      "encoding": {"x": {"field": "bar", "type": "quantitative"}, "y": {"field": "price", "type": "quantitative"}, "text": {"field": "label"}}
    },
    {
      "data": {"values": [{"bar": 0.75, "price": 56.82}, {"bar": 0.75, "price": 55.92}, {"bar": 0.75, "price": 55.02}]},
      "mark": {"type": "point", "shape": "M-1,-0.9H1V0.1H-1Z M-1,0.4H1V0.8H-1Z", "size": 100, "filled": true, "color": "#aaaaaa", "opacity": 1},
      "encoding": {"x": {"field": "bar", "type": "quantitative"}, "y": {"field": "price", "type": "quantitative"}}
    },
    {
      "data": {"values": [{"bar": 2.69, "price": 56.82}, {"bar": 2.69, "price": 55.92}, {"bar": 2.69, "price": 55.02}]},
      "mark": {"type": "point", "shape": "cross", "angle": 45, "size": 50, "filled": true, "color": "#aaaaaa", "opacity": 1},
      "encoding": {"x": {"field": "bar", "type": "quantitative"}, "y": {"field": "price", "type": "quantitative"}}
    },
    {
      "data": {"values": [{"bar": 280.1, "price": 55.9, "label": "17"}, {"bar": 284.6, "price": 55.9, "label": "35"}]},
      "mark": {"type": "text", "align": "left", "baseline": "middle", "font": "Roboto", "fontSize": 13, "color": "#f5a623"},
      "encoding": {"x": {"field": "bar", "type": "quantitative"}, "y": {"field": "price", "type": "quantitative"}, "text": {"field": "label"}}
    },
    {
      "data": {"values": [{"bar": 282.5, "price": 55.9, "label": "h"}, {"bar": 287, "price": 55.9, "label": "m"}]},
      "mark": {"type": "text", "align": "left", "baseline": "middle", "font": "Roboto", "fontSize": 13, "color": "#999999"},
      "encoding": {"x": {"field": "bar", "type": "quantitative"}, "y": {"field": "price", "type": "quantitative"}, "text": {"field": "label"}}
    },
    {
      "data": {"values": [{"bar": 113.57, "bar2": 124.52, "price": 91.75, "price2": 87.11}]},
      "mark": {"type": "rect", "color": "#fb3545", "cornerRadius": 2},
      "encoding": {"x": {"field": "bar", "type": "quantitative"}, "x2": {"field": "bar2"}, "y": {"field": "price", "type": "quantitative"}, "y2": {"field": "price2"}}
    },
    {
      "data": {"values": [{"bar": 119.1, "price": 89.44}]},
      "mark": {"type": "point", "shape": "M-0.81,-0.25L-0.18,-0.33L0.02,-0.17L0.22,-0.44L0.79,-0.52L0.34,-0.02L0.89,0.53L0.29,0.41L0.04,0.18L-0.26,0.33L-0.88,0.23L-0.31,-0.02Z", "size": 4444, "filled": true, "color": "#ffffff", "opacity": 1},
      "encoding": {"x": {"field": "bar", "type": "quantitative"}, "y": {"field": "price", "type": "quantitative"}}
    },
    {
      "data": {"values": [{"bar": 126.3, "price": 88.68, "label": "xtb"}]},
      "mark": {"type": "text", "align": "left", "baseline": "alphabetic", "font": "Inter", "fontSize": 60, "fontWeight": 900, "color": "#0a0a0a"},
      "encoding": {"x": {"field": "bar", "type": "quantitative"}, "y": {"field": "price", "type": "quantitative"}, "text": {"field": "label"}}
    },
    {
      "data": {"values": [{"bar": 126.4, "price": 87.5, "label": "online investing"}]},
      "mark": {"type": "text", "align": "left", "baseline": "alphabetic", "font": "Roboto", "fontSize": 14.6, "fontWeight": 300, "color": "#222222"},
      "encoding": {"x": {"field": "bar", "type": "quantitative"}, "y": {"field": "price", "type": "quantitative"}, "text": {"field": "label"}}
    }
  ]
}
